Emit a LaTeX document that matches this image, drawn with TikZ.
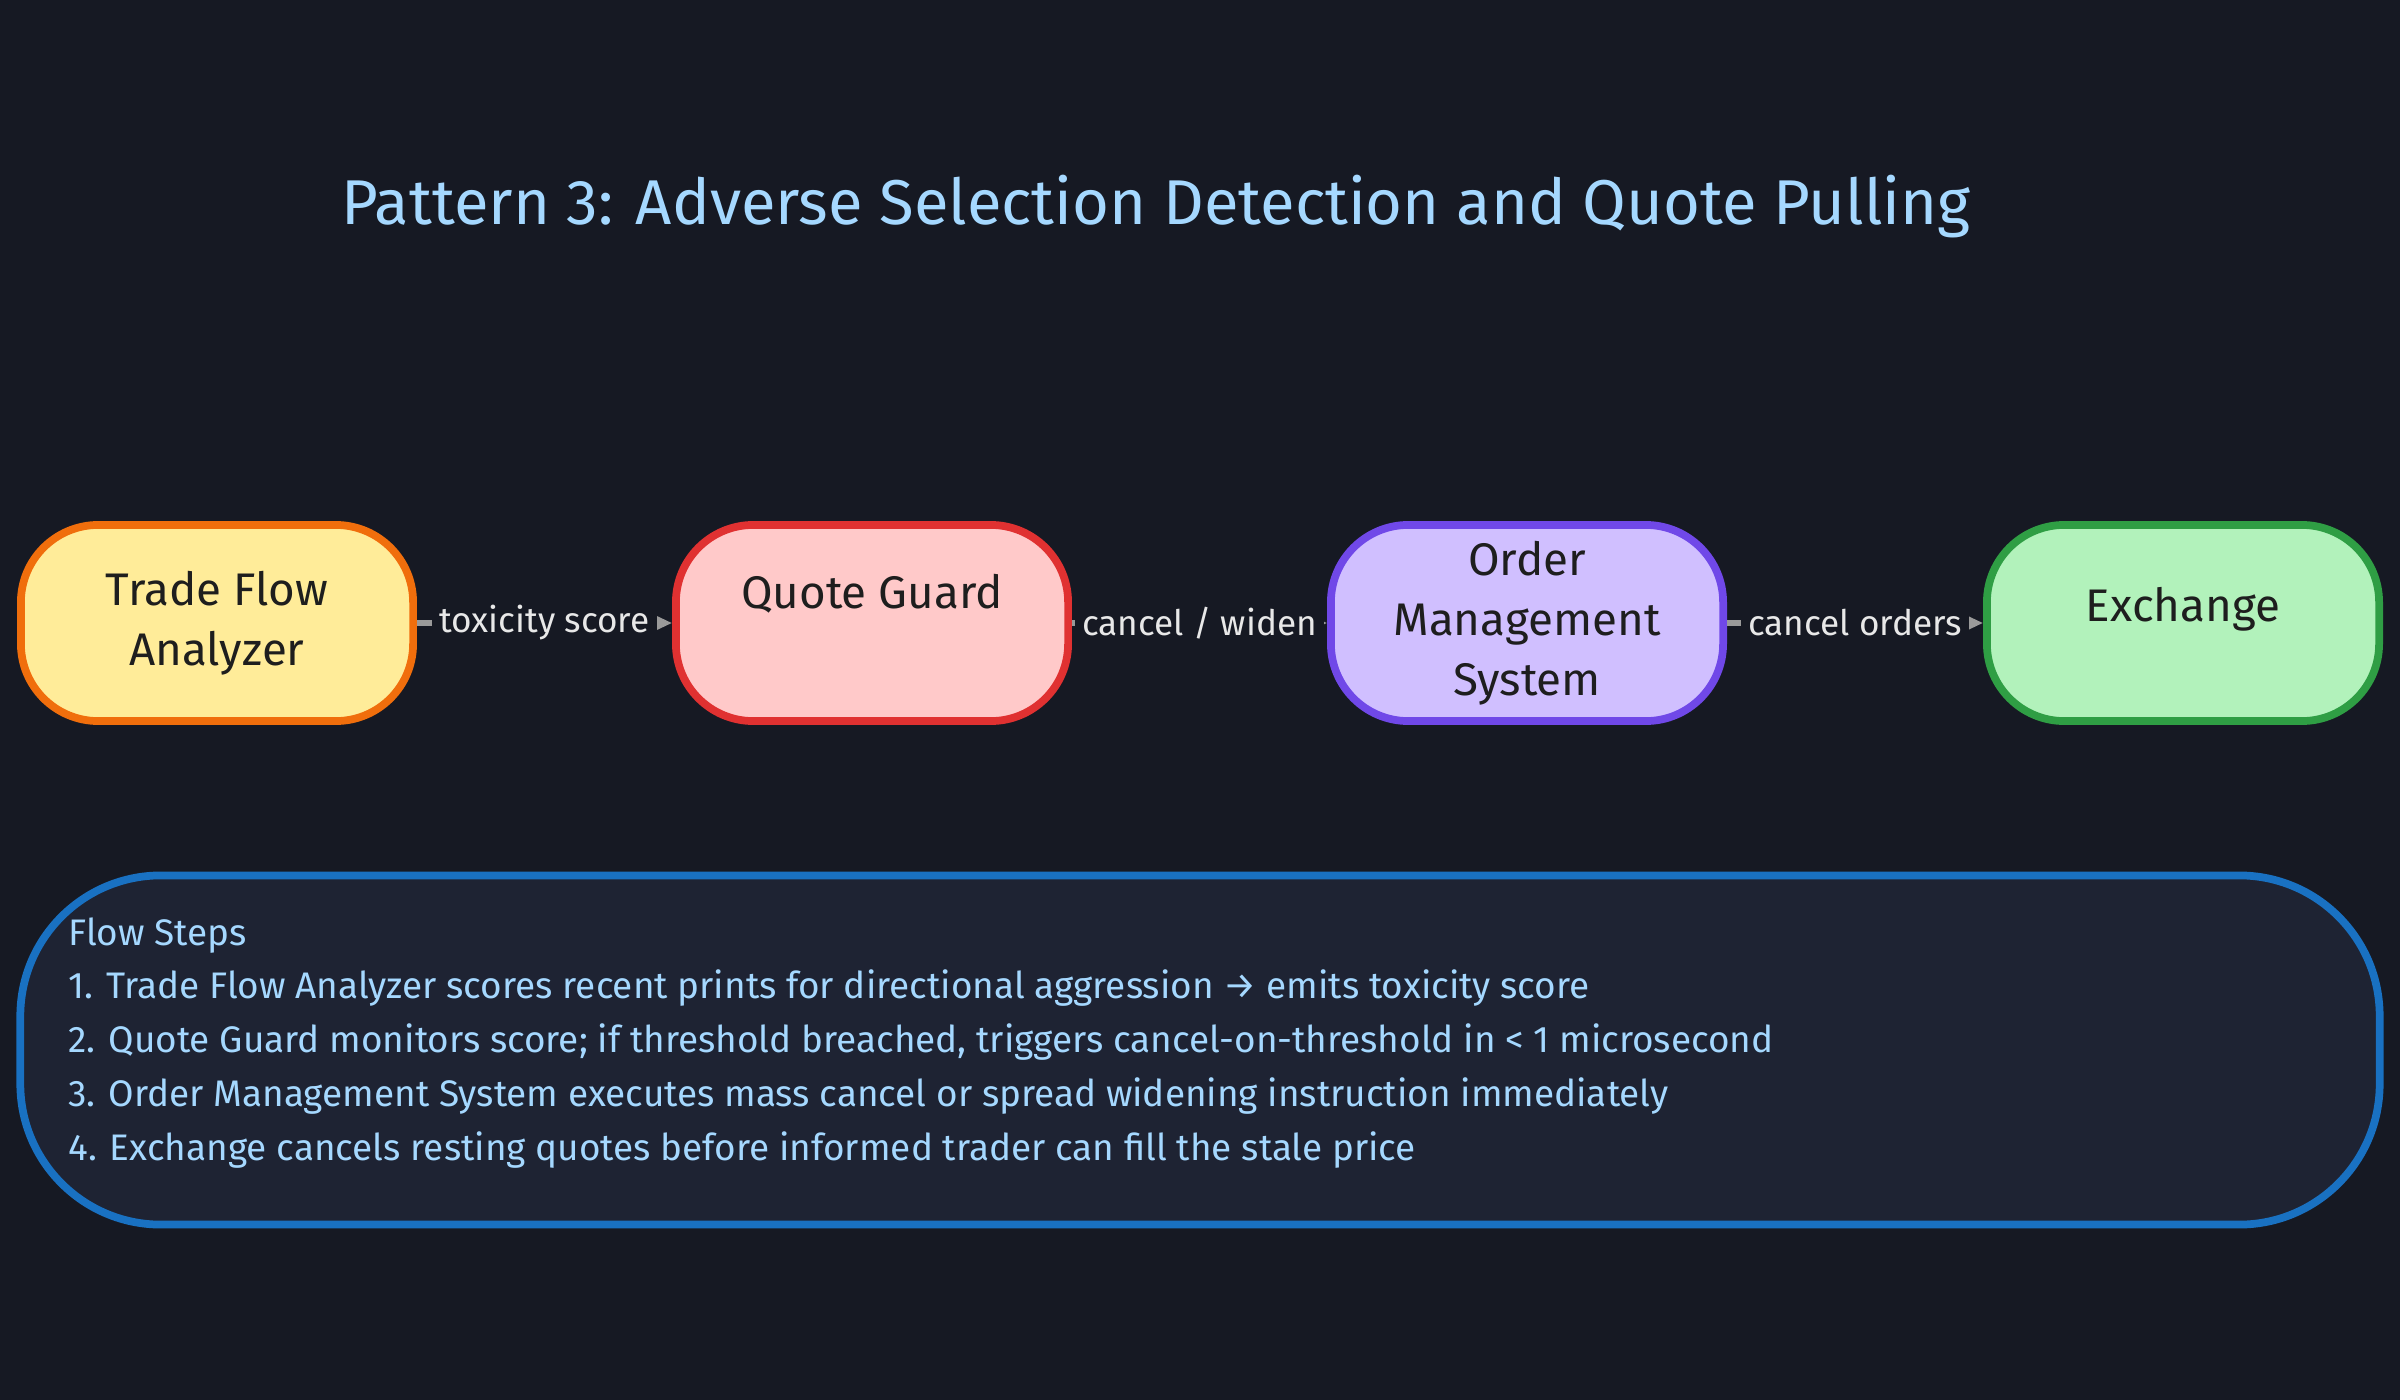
\documentclass[tikz,border=0pt]{standalone}
\usepackage{fontspec}
\setmainfont{Fira Sans}
\usetikzlibrary{arrows.meta}
\definecolor{bg}{HTML}{161923}
\definecolor{stepbg}{HTML}{1E2333}
\definecolor{stepline}{HTML}{1971C2}
\definecolor{ttl}{HTML}{A5D8FF}
\definecolor{dark}{HTML}{1E1E1E}
\definecolor{lbl}{HTML}{E8E8E8}
\definecolor{arr}{HTML}{9A9A9A}
\definecolor{yfill}{HTML}{FFEC99}\definecolor{yline}{HTML}{F06E0C}
\definecolor{rfill}{HTML}{FFC9C9}\definecolor{rline}{HTML}{E03131}
\definecolor{vfill}{HTML}{D0BFFF}\definecolor{vline}{HTML}{7048E8}
\definecolor{gfill}{HTML}{B2F2BB}\definecolor{gline}{HTML}{2F9E44}
\tikzset{
  box/.style={draw, line width=2.2pt, rounded corners=22pt, minimum width=3.92cm, minimum height=1.96cm, align=center, text=dark, font=\fontsize{13}{17}\selectfont},
  flow/.style={draw=arr, line width=1.6pt, -{Triangle[length=9pt,width=8pt]}},
  elbl/.style={fill=bg, text=lbl, inner sep=2pt, font=\fontsize{10}{12}\selectfont}
}
\begin{document}
\begin{tikzpicture}[x=0.01cm,y=-0.01cm]
\fill[bg] (0,0) rectangle (2400,1400);
\useasboundingbox (0,0) rectangle (2400,1400);
\node[text=ttl, font=\fontsize{18}{22}\selectfont] (title) at (1156,207) {Pattern 3: Adverse Selection Detection and Quote Pulling};
\node[box, fill=yfill, draw=yline] (tfa) at (217,623) {Trade Flow\\Analyzer};
\node[box, fill=rfill, draw=rline] (qg) at (872,623) {};
\node[text=dark, font=\fontsize{13}{17}\selectfont] (qgt) at (872,594) {Quote Guard};
\node[box, fill=vfill, draw=vline] (oms) at (1527,623) {Order\\Management\\System};
\node[box, fill=gfill, draw=gline] (ex) at (2183,623) {};
\node[text=dark, font=\fontsize{13}{17}\selectfont] (ext) at (2183,609) {Exchange};
\draw[flow] (tfa) -- node[elbl]{toxicity score} (qg);
\draw[flow] (qg) -- node[elbl]{cancel / widen} (oms);
\draw[flow] (oms) -- node[elbl]{cancel orders} (ex);
\node[draw=stepline, line width=2.2pt, fill=stepbg, rounded corners=40pt, minimum width=23.58cm, minimum height=3.49cm] (steps) at (1200,1050) {};
\node[anchor=north west, text=ttl, align=left, font=\fontsize{10.5}{15.3}\selectfont] (txt) at (56,905) {Flow Steps\\
1. Trade Flow Analyzer scores recent prints for directional aggression → emits toxicity score\\
2. Quote Guard monitors score; if threshold breached, triggers cancel-on-threshold in < 1 microsecond\\
3. Order Management System executes mass cancel or spread widening instruction immediately\\
4. Exchange cancels resting quotes before informed trader can fill the stale price};
\end{tikzpicture}
\end{document}
